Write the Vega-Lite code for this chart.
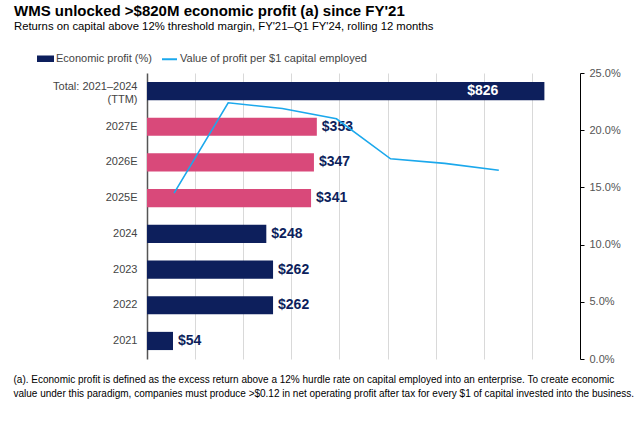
{
  "$schema": "https://vega.github.io/schema/vega-lite/v6.json",
  "autosize": "none",
  "width": 433,
  "height": 286,
  "padding": {"left": 147, "top": 73, "right": 60, "bottom": 66},
  "background": "white",
  "config": {
    "font": "Liberation Sans",
    "view": {"stroke": null},
    "axis": {"labelFont": "Liberation Sans", "titleFont": "Liberation Sans"},
    "legend": {"labelFont": "Liberation Sans"}
  },
  "title": {
    "text": "WMS unlocked >$820M economic profit (a) since FY'21",
    "subtitle": "Returns on capital above 12% threshold margin, FY'21–Q1 FY'24, rolling 12 months",
    "anchor": "start",
    "frame": "group",
    "dx": -133,
    "font": "Liberation Sans",
    "fontSize": 15,
    "fontWeight": "bold",
    "color": "#000000",
    "subtitleFont": "Liberation Sans",
    "subtitleFontSize": 11.3,
    "subtitleColor": "#000000",
    "subtitlePadding": 2,
    "offset": 18
  },
  "datasets": {
    "bars": [
      {"category": "Total: 2021–2024 (TTM)", "profit": 826, "series": "Economic profit (%)", "estimate": false},
      {"category": "2027E", "profit": 353, "series": "Economic profit (%)", "estimate": true},
      {"category": "2026E", "profit": 347, "series": "Economic profit (%)", "estimate": true},
      {"category": "2025E", "profit": 341, "series": "Economic profit (%)", "estimate": true},
      {"category": "2024", "profit": 248, "series": "Economic profit (%)", "estimate": false},
      {"category": "2023", "profit": 262, "series": "Economic profit (%)", "estimate": false},
      {"category": "2022", "profit": 262, "series": "Economic profit (%)", "estimate": false},
      {"category": "2021", "profit": 54, "series": "Economic profit (%)", "estimate": false}
    ],
    "line": [
      {"period": "1", "value": 0.145, "series": "Value of profit per $1 capital employed"},
      {"period": "2", "value": 0.224, "series": "Value of profit per $1 capital employed"},
      {"period": "3", "value": 0.219, "series": "Value of profit per $1 capital employed"},
      {"period": "4", "value": 0.210, "series": "Value of profit per $1 capital employed"},
      {"period": "5", "value": 0.175, "series": "Value of profit per $1 capital employed"},
      {"period": "6", "value": 0.171, "series": "Value of profit per $1 capital employed"},
      {"period": "7", "value": 0.165, "series": "Value of profit per $1 capital employed"}
    ]
  },
  "layer": [
    {
      "data": {"name": "bars"},
      "encoding": {
        "y": {
          "field": "category",
          "type": "nominal",
          "sort": ["Total: 2021–2024 (TTM)", "2027E", "2026E", "2025E", "2024", "2023", "2022", "2021"],
          "scale": {"paddingInner": 0.49, "paddingOuter": 0.25},
          "axis": {
            "title": null,
            "orient": "left",
            "ticks": false,
            "domain": true,
            "domainColor": "#555555",
            "domainWidth": 1.5,
            "labelPadding": 10,
            "labelFontSize": 11,
            "labelColor": "#444444",
            "labelLineHeight": 12.5,
            "labelOffset": {"condition": {"test": "datum.value == 'Total: 2021–2024 (TTM)'", "value": -4}, "value": 0},
            "labelExpr": "datum.value == 'Total: 2021–2024 (TTM)' ? ['Total: 2021–2024', '(TTM)\u00a0\u00a0\u00a0\u00a0\u00a0\u00a0\u00a0\u00a0\u00a0'] : datum.value"
          }
        },
        "x": {
          "field": "profit",
          "type": "quantitative",
          "scale": {"domain": [0, 900], "nice": false},
          "axis": {
            "values": [100, 200, 300, 400, 500, 600, 700, 800],
            "grid": true,
            "gridColor": "#d9d9d9",
            "gridWidth": 1,
            "labels": false,
            "ticks": false,
            "domain": false,
            "title": [
              "(a). Economic profit is defined as the excess return above a 12% hurdle rate on capital employed into an enterprise. To create economic",
              "value under this paradigm, companies must produce >$0.12 in net operating profit after tax for every $1 of capital invested into the business."
            ],
            "titleFontSize": 10,
            "titleFontWeight": "normal",
            "titleColor": "#000000",
            "titleAnchor": "start",
            "titleAlign": "left",
            "titleBaseline": "middle",
            "titleLineHeight": 14,
            "titleX": -134,
            "titleY": 20
          }
        }
      },
      "layer": [
        {
          "mark": {"type": "bar"},
          "encoding": {
            "color": {
              "field": "series",
              "type": "nominal",
              "condition": {"test": "datum.estimate", "value": "#d9497a"},
              "scale": {
                "domain": ["Economic profit (%)", "Value of profit per $1 capital employed"],
                "range": ["#0d1f5c", "#1ba8ec"]
              },
              "legend": {
                "title": null,
                "orient": "none",
                "direction": "horizontal",
                "legendX": -110,
                "legendY": -23,
                "labelFontSize": 11,
                "labelColor": "#444444",
                "labelLimit": 400,
                "symbolSize": 225,
                "columnPadding": 6,
                "labelOffset": 2,
                "encode": {
                  "symbols": {
                    "update": {
                      "shape": {"signal": "datum.value === 'Economic profit (%)' ? 'M-1,-0.3H1V0.3H-1Z' : 'stroke'"},
                      "fill": {"signal": "datum.value === 'Economic profit (%)' ? '#0d1f5c' : 'transparent'"},
                      "stroke": {"signal": "datum.value === 'Economic profit (%)' ? 'transparent' : '#1ba8ec'"},
                      "strokeWidth": {"value": 2}
                    }
                  }
                }
              }
            }
          }
        },
        {
          "transform": [{"filter": "datum.profit < 800"}],
          "mark": {"type": "text", "align": "left", "baseline": "middle", "dx": 5, "fontSize": 14, "fontWeight": "bold", "color": "#0d1f5c"},
          "encoding": {"text": {"field": "profit", "type": "quantitative", "format": "$.0f"}}
        },
        {
          "transform": [{"filter": "datum.profit >= 800"}],
          "mark": {"type": "text", "align": "right", "baseline": "middle", "dx": -46, "fontSize": 14, "fontWeight": "bold", "color": "#ffffff"},
          "encoding": {"text": {"field": "profit", "type": "quantitative", "format": "$.0f"}}
        }
      ]
    },
    {
      "data": {"name": "line"},
      "mark": {"type": "line", "strokeWidth": 1.6},
      "encoding": {
        "x": {
          "field": "period",
          "type": "ordinal",
          "scale": {"type": "point", "domain": ["1", "2", "3", "4", "5", "6", "7", "8"], "padding": 0.5},
          "axis": null
        },
        "y": {
          "field": "value",
          "type": "quantitative",
          "scale": {"domain": [0, 0.25], "nice": false},
          "axis": {
            "orient": "right",
            "title": null,
            "values": [0, 0.05, 0.1, 0.15, 0.2, 0.25],
            "format": ".1%",
            "grid": false,
            "domainColor": "#000000",
            "tickColor": "#000000",
            "tickSize": 4,
            "labelPadding": 5,
            "labelFontSize": 11,
            "labelColor": "#555555"
          }
        },
        "color": {"field": "series", "type": "nominal"}
      }
    }
  ],
  "resolve": {"scale": {"x": "independent", "y": "independent"}}
}
